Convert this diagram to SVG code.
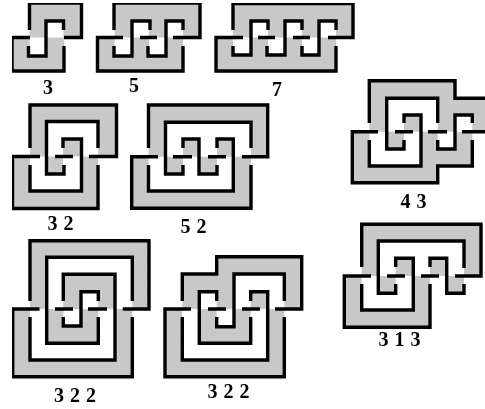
<svg xmlns="http://www.w3.org/2000/svg" width="485" height="409" viewBox="0 0 485 409">
<style>
.g{fill:#c8c8c8;fill-rule:evenodd;stroke:none}
.k{fill:none;stroke:#000;stroke-width:3.4;stroke-linejoin:miter;stroke-linecap:butt}
text{font-family:"Liberation Serif","Times New Roman",serif;font-weight:bold;font-size:20px;fill:#000;text-anchor:middle;word-spacing:1px}
</style>
<defs><filter id="b" x="0" y="0" width="1" height="1" filterUnits="objectBoundingBox"><feGaussianBlur stdDeviation="0.45"/></filter></defs>
<rect width="485" height="409" fill="#fff"/>
<g filter="url(#b)">
<g id="knot-3">
<path class="g" d="M29.5 3H81.5V37.500H64V71H12V37.500H29.5ZM46 21H63.500V37.500H46ZM29.5 37.500H46V56H29.5Z"/>
<path class="k" d="M29.5 30V3H81.5V37.500H64M30 37.500H12V71H64V46M28.500 46V56H46V21H63.500V30"/>
<text x="48" y="94">3</text>
</g>
<g id="knot-5">
<path class="g" d="M114.5 3H200V37.5H183V71H97.5V37.5H114.5ZM132 21H149V37.5H132ZM166 21H183V37.5H166ZM114.5 37.5H132V56H114.5ZM149 37.5H166V56H149Z"/>
<path class="k" d="M114 30V3H200V37.5H173M123 37.5H97.5V71H183V46M140 37.5H157M114 46V56H132V21H150V30M148 46V56H166V21H183V30"/>
<text x="134" y="92">5</text>
</g>
<g id="knot-7">
<path class="g" d="M233 3.5H353V37.5H336V71H216V37.5H233ZM251 21H268V37.5H251ZM285 21H302V37.5H285ZM319 21H336V37.5H319ZM233 37.5H251V55H233ZM268 37.5H285V55H268ZM302 37.5H319V55H302Z"/>
<path class="k" d="M233 30V3.5H353V37.5H328M243 37.5H216V71H336V46M258 37.5H275M293 37.5H310M233 46V55H251V21H268V30M267 46V55H285V21H302V30M302 46V55H319V21H336V30"/>
<text x="277" y="96">7</text>
</g>
<g id="knot-3-2">
<path class="g" d="M30 105H116.5V156.5H98V208.5H12.5V156.5H30ZM46.5 121.5H98V156.5H81.5V139H63V156.5H46.5ZM30 156.5H46.5V174H63V156.5H81.5V191H30Z"/>
<path class="k" d="M30 148V105H116.5V156.5H89M40 156.5H12.5V208.5H98V165M55 156.5H73M98 148V121.5H46.5V174H64V165M30 165V191H81.5V139H63V148"/>
<text x="60.500" y="230">3 2</text>
</g>
<g id="knot-5-2">
<path class="g" d="M148.500 105H267.700V156.700H251V208.300H131.700V156.700H148.500ZM165.500 122.300H251V156.700H233.300V139H217V156.700H199V139H183V156.700H165.500ZM148.500 156.700H165.500V174H183V156.700H199V174H217V156.700H233.300V191H148.500Z"/>
<path class="k" d="M148.500 148V105H267.700V156.700H242M158 156.700H131.700V208.300H251V165M173 156.700H192M208 156.700H226M251 148V122.300H165.500V174H183V165M183 148V139H199V174H217V165M217 148V139H233.300V191H148.500V165"/>
<text x="193.500" y="233">5 2</text>
</g>
<g id="knot-4-3">
<path class="g" d="M369.300 80.700H455V98.300H485V131.700H472.300V166H437.700V182.700H352.300V131.700H369.300ZM386.700 98.300H437.700V131.700H421V115H404V131.700H386.700ZM369.300 131.700H386.700V149H404V131.700H421V166H369.300ZM455 115H472.300V131.700H455ZM437.700 131.700H455V149H437.700Z"/>
<path class="k" d="M369.300 123V80.700H455V98.300H485M378 131.700H352.300V182.700H437.700V166H472.300V140M395 131.700H413M428 131.700H447M462 131.700H485M437.700 123V98.300H386.700V149H404V140M404 123V115H421V166H369.300V140M437.700 140V149H455V115H472.300V123"/>
<text x="413.500" y="208">4 3</text>
</g>
<g id="knot-3-1-3">
<path class="g" d="M361.700 224.300H481V276H464V293.300H446.700V276H430V327.300H344.300V276H361.700ZM378.300 241H464V276H446.700V258.300H430V276H413.300V258.300H395.700V276H378.300ZM361.700 276H378.300V293.300H395.700V276H413.300V310H361.700Z"/>
<path class="k" d="M361.700 267V224.300H481V276H455M371 276H344.300V327.300H430V284M387 276H405M421 276H439M464 268V241H378.300V293.300H395.700V284M395.700 267V258.300H413.300V310H361.700V284M430 267V258.300H446.700V293.300H464V284"/>
<text x="399.500" y="346">3 1 3</text>
</g>
<g id="knot-3-2-2-a">
<path class="g" d="M30 240.700H149V309H132.300V376.700H12.700V309H30ZM46.700 257.300H132.300V309H115V274.300H63.300V309H46.700ZM81 291.700H98.300V309H81ZM30 309H46.700V343.300H98.300V309H115V360H30ZM63.300 309H81V326H63.300Z"/>
<path class="k" d="M30 301V240.700H149V309H122.700M39.500 309H12.700V376.700H132.300V317M55 309H73M88 309H107M132.300 301V257.300H46.700V343.300H98.300V317M30 317V360H115V274.300H63.300V301M63.300 317V326H81V291.700H98.300V301"/>
<text x="75" y="402">3 2 2</text>
</g>
<g id="knot-3-2-2-b">
<path class="g" d="M182.300 274H216.700V256.700H301.700V309H284.300V376.700H165V309H182.300ZM234 274H284.300V309H267.700V291.700H250.700V309H234ZM199.300 291.700H216.700V309H199.300ZM182.300 309H199.300V343.300H250.700V309H267.700V360H182.300ZM216.700 309H234V326.700H216.700Z"/>
<path class="k" d="M182.300 301V274H216.700V256.700H301.700V309H275M191 309H165V376.700H284.300V317M208 309H226M242 309H260M284.300 301V274H234V326.700H216.700V317M216.700 301V291.700H199.300V343.300H250.700V317M250.700 301V291.700H267.700V360H182.300V317"/>
<text x="228.500" y="398">3 2 2</text>
</g>
</g>
</svg>
